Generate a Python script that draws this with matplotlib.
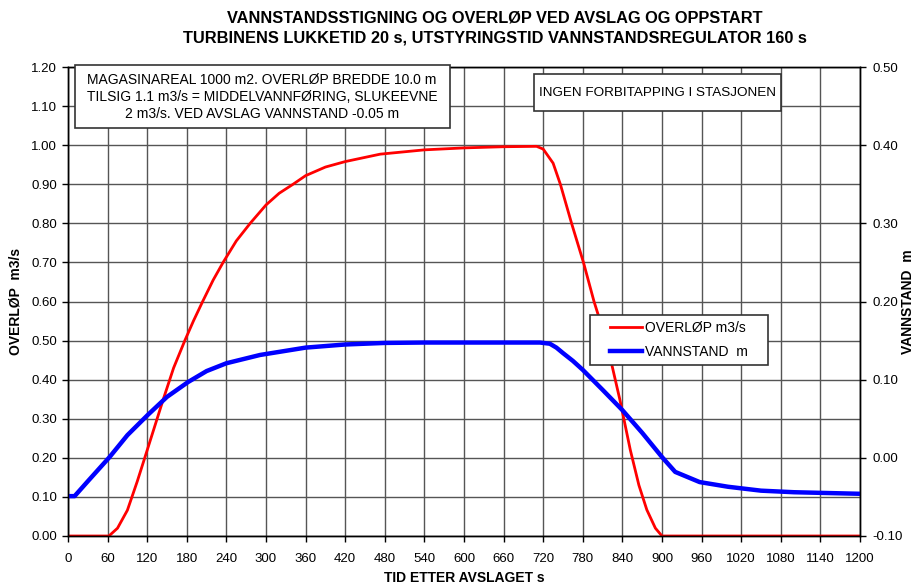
import matplotlib
matplotlib.use("Agg")
from matplotlib import pyplot as plt
from matplotlib.patches import Rectangle

plt.rcParams['font.family'] = ['Liberation Sans', 'DejaVu Sans']

# OVERLØP m3/s (left axis)
t_over = [0, 62, 75, 90, 105, 121, 144, 160, 177, 190, 204, 220, 235, 255, 276, 300, 320,
          341, 360, 390, 420, 473, 540, 600, 660, 710, 720, 735, 746, 763, 781, 797, 810,
          821, 836, 852, 865, 877, 890, 900, 1200]
overlop = [0.0, 0.0, 0.02, 0.066, 0.14, 0.225, 0.348, 0.43, 0.50, 0.55, 0.60, 0.655, 0.70,
           0.755, 0.80, 0.847, 0.877, 0.90, 0.922, 0.944, 0.958, 0.977, 0.988, 0.993, 0.996,
           0.997, 0.99, 0.954, 0.90, 0.80, 0.70, 0.60, 0.53, 0.46, 0.35, 0.22, 0.13, 0.067,
           0.02, 0.0, 0.0]

# VANNSTAND m (right axis)
t_vann = [0, 10, 30, 63, 90, 121, 150, 182, 210, 240, 291, 360, 420, 480, 540, 600, 660,
          715, 730, 740, 750, 765, 780, 810, 840, 870, 900, 920, 957, 1000, 1050, 1100,
          1150, 1200]
vannstand = [-0.049, -0.049, -0.03, 0.001, 0.029, 0.055, 0.078, 0.097, 0.111, 0.121, 0.1316,
             0.141, 0.145, 0.147, 0.1475, 0.1475, 0.1475, 0.1475, 0.146, 0.141, 0.134, 0.124,
             0.1125, 0.087, 0.061, 0.032, 0.001, -0.018, -0.031, -0.037, -0.042, -0.044,
             -0.045, -0.046]

W, H = 923, 586
fig = plt.figure(figsize=(9.23, 5.86), dpi=100)
ax = fig.add_axes([68 / W, 1 - 536 / H, 792 / W, 469 / H])
ax2 = ax.twinx()

ax.set_xlim(0, 1200)
ax.set_ylim(0, 1.2)
ax2.set_ylim(-0.1, 0.5)

ax.set_xticks(range(0, 1201, 60))
ax.set_yticks([i / 10 for i in range(13)])
ax.set_yticklabels(['%.2f' % (i / 10) for i in range(13)])
ax2.set_yticks([i / 10 - 0.1 for i in range(7)])
ax2.set_yticklabels(['%.2f' % (i / 10 - 0.1) for i in range(7)])

ax.grid(True, color='#555555', linewidth=1.0)
ax.set_axisbelow(True)
for a in (ax, ax2):
    a.tick_params(direction='out', length=4, width=1, labelsize=9.5)
    for s in a.spines.values():
        s.set_linewidth(1.0)
ax.tick_params(axis='x', pad=8)
ax.tick_params(axis='y', pad=4)
ax2.tick_params(axis='y', pad=5)

l1, = ax.plot(t_over, overlop, color='red', linewidth=2)
l2, = ax2.plot(t_vann, vannstand, color='#0000ff', linewidth=3.2)

ax.set_xlabel('TID ETTER AVSLAGET s', fontsize=10, fontweight='bold')
ax.xaxis.set_label_coords(0.5, -0.074)
ax.set_ylabel('OVERLØP  m3/s', fontsize=10, fontweight='bold')
ax.yaxis.set_label_coords(-0.057, 0.5)
ax2.set_ylabel('VANNSTAND  m', fontsize=10, fontweight='bold', rotation=90)
ax2.yaxis.set_label_coords(1.052, 0.5)

fig.text(495 / W, 1 - 18 / H, 'VANNSTANDSSTIGNING OG OVERLØP VED AVSLAG OG OPPSTART',
         ha='center', va='center', fontsize=11.8, fontweight='bold')
fig.text(495 / W, 1 - 38 / H, 'TURBINENS LUKKETID 20 s, UTSTYRINGSTID VANNSTANDSREGULATOR 160 s',
         ha='center', va='center', fontsize=11.8, fontweight='bold')


def box(x0, y0, x1, y1):
    fig.patches.append(Rectangle((x0 / W, 1 - y1 / H), (x1 - x0) / W, (y1 - y0) / H,
                                 transform=fig.transFigure, facecolor='white',
                                 edgecolor='#333333', linewidth=1.2, zorder=3))


box(75, 65, 450, 128)
fig.text(262 / W, 1 - 97 / H, 'MAGASINAREAL 1000 m2. OVERLØP BREDDE 10.0 m\n'
         'TILSIG 1.1 m3/s = MIDDELVANNFØRING, SLUKEEVNE\n'
         '2 m3/s. VED AVSLAG VANNSTAND -0.05 m',
         ha='center', va='center', fontsize=10, linespacing=1.25, zorder=4)

box(534, 74, 781, 111)
fig.text(657.5 / W, 1 - 92.5 / H, 'INGEN FORBITAPPING I STASJONEN', ha='center', va='center',
         fontsize=9.7, zorder=4)

box(590, 315, 768, 365)
leg = fig.legend([l1, l2], ['OVERLØP m3/s', 'VANNSTAND  m'], loc='center left',
                 bbox_to_anchor=(610 / W, 1 - 340 / H), frameon=False, fontsize=10,
                 handlelength=2.3, handletextpad=0.25, borderpad=0, borderaxespad=0,
                 labelspacing=0.75)
leg.set_zorder(5)

fig.savefig('out.png', dpi=100)
